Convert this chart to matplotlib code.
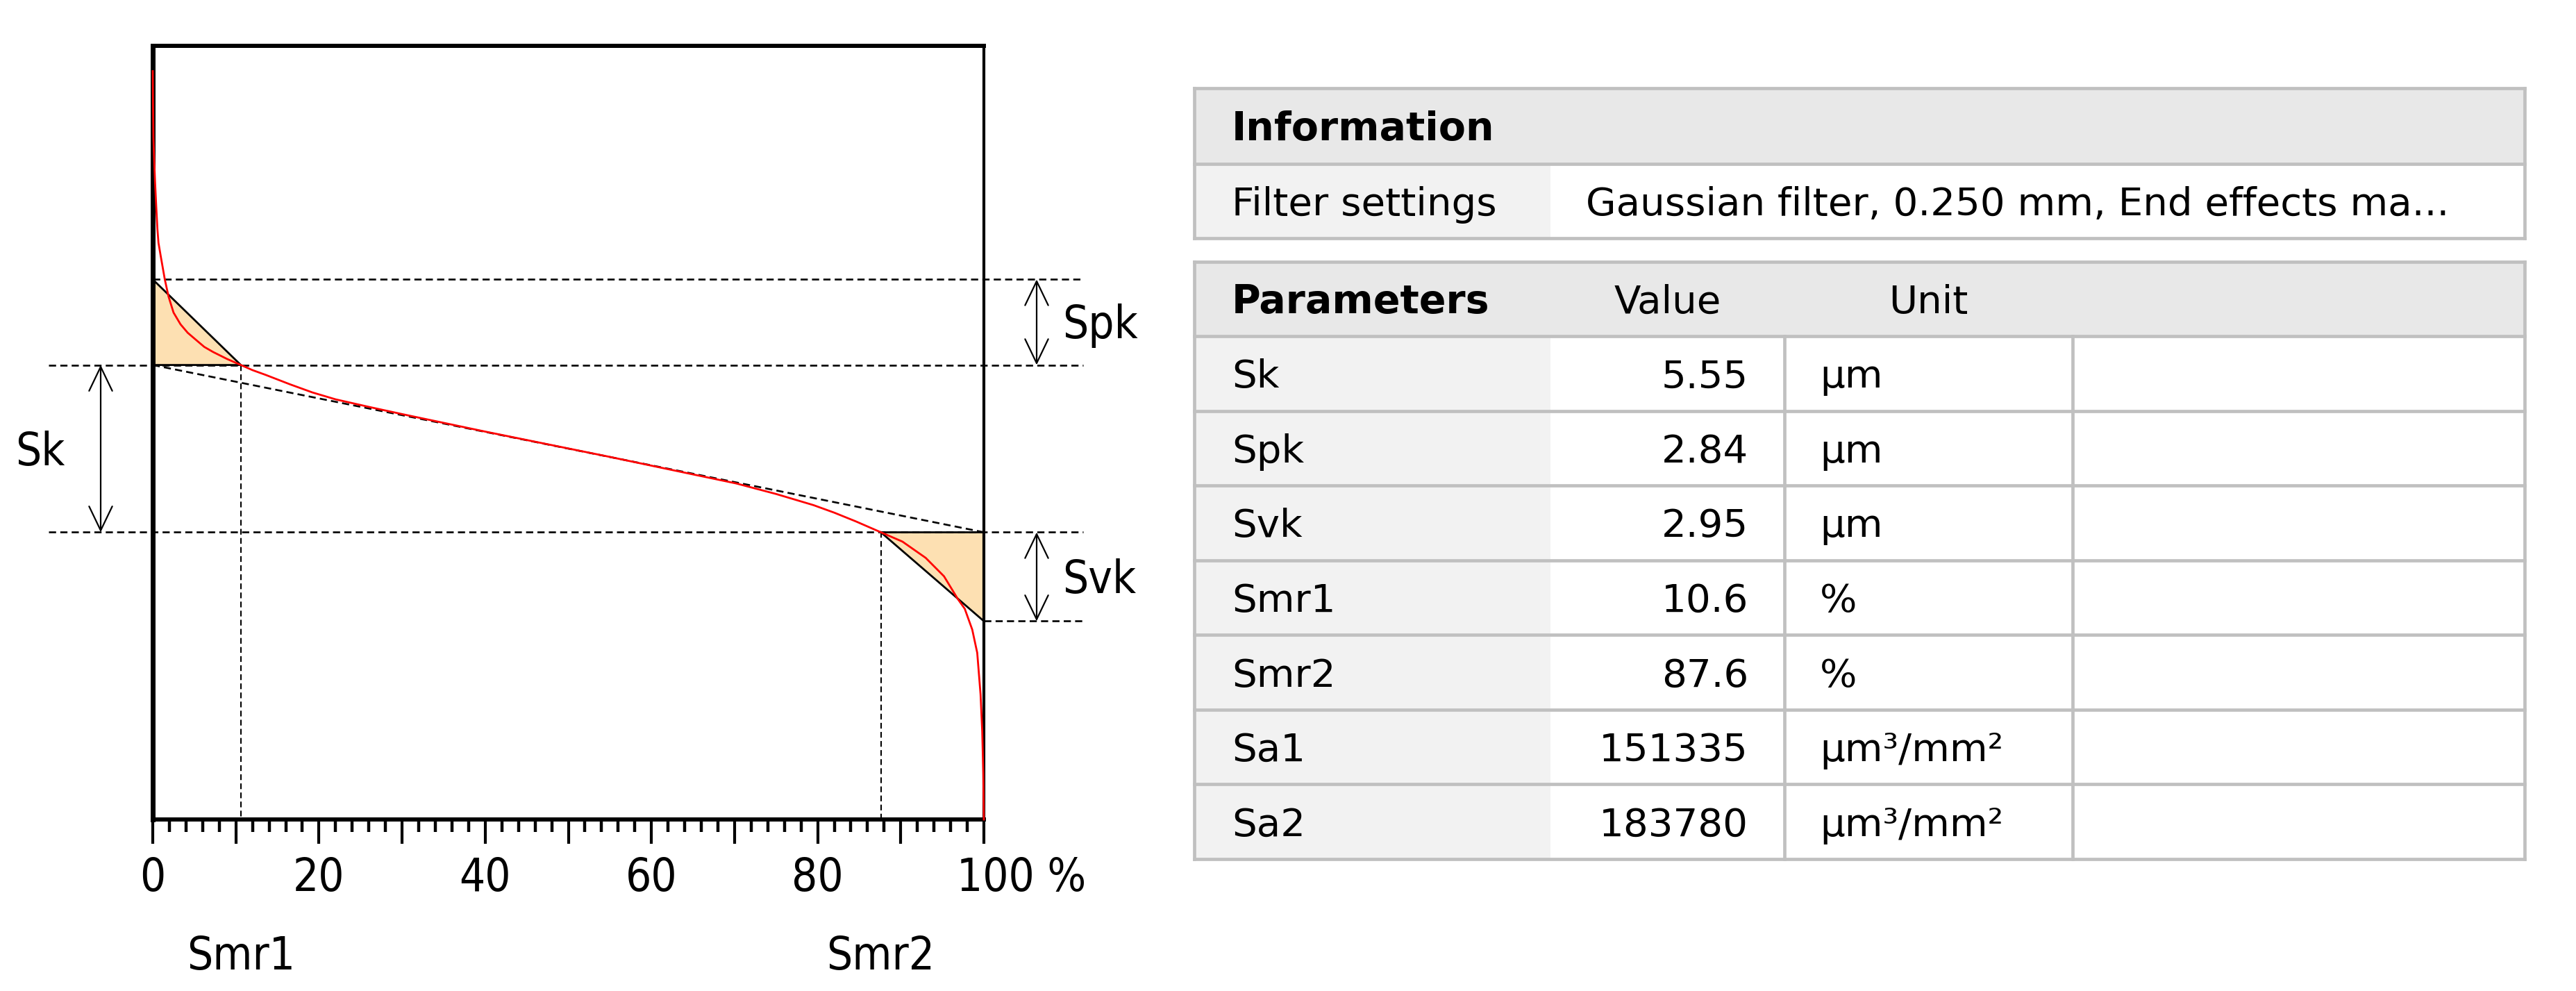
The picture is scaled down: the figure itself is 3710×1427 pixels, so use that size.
import matplotlib
matplotlib.use("Agg")
import matplotlib.pyplot as plt
from matplotlib import font_manager as fm
from matplotlib.font_manager import FontProperties
from matplotlib.patches import Polygon, Rectangle
from matplotlib.transforms import blended_transform_factory
import numpy as np

# ---------------- data ----------------
ratio_pct = [0.0, 0.03, 0.08, 0.18, 0.28, 0.42, 0.56, 0.69, 0.98, 1.45, 1.9, 2.5,
             3.34, 4.2, 5.26, 6.2, 7.27, 8.94, 10.6, 12.0, 13.6, 16.5, 19.2, 22.0,
             26.0, 30.0, 35.0, 40.0, 45.0, 50.0, 55.0, 60.0, 65.0, 70.2, 75.0, 79.5,
             82.0, 84.6, 87.6, 90.2, 93.0, 95.2, 96.9, 97.7, 98.6, 99.2, 99.6, 99.8,
             99.93, 100.0]
height_um = [15.3, 14.3, 13.1, 12.3, 11.6, 10.8, 10.06, 9.6, 9.13, 8.39, 7.82, 7.29,
             6.9, 6.62, 6.37, 6.15, 5.98, 5.75, 5.55, 5.38, 5.22, 4.91, 4.64, 4.41,
             4.16, 3.92, 3.63, 3.34, 3.06, 2.78, 2.50, 2.21, 1.92, 1.62, 1.27, 0.90,
             0.65, 0.36, 0.0, -0.31, -0.85, -1.46, -2.23, -2.54, -3.23, -4.0, -5.38, -6.6,
             -8.0, -9.53]

Sk, Spk, Svk = 5.55, 2.84, 2.95
Smr1, Smr2 = 10.6, 87.6

x_tick_values = [0, 20, 40, 60, 80]
x_tick_labels = ["0", "20", "40", "60", "80"]
last_tick_value = 100
last_tick_label = "100 %"

info_title = "Information"
info_labels = ["Filter settings"]
info_values = ["Gaussian filter, 0.250 mm, End effects ma..."]

param_headers = ["Parameters", "Value", "Unit"]
param_names = ["Sk", "Spk", "Svk", "Smr1", "Smr2", "Sa1", "Sa2"]
param_values = ["5.55", "2.84", "2.95", "10.6", "87.6", "151335", "183780"]
param_units = ["µm", "µm", "µm", "%", "%", "µm³/mm²", "µm³/mm²"]

# ---------------- fonts ----------------
has_cond = any(f.name == "DejaVu Sans" and str(f.stretch) == "condensed"
               for f in fm.fontManager.ttflist)
if has_cond:
    chart_fp = FontProperties(family="DejaVu Sans", stretch="condensed", size=47)
else:
    chart_fp = FontProperties(family="DejaVu Sans", size=43)
tab_fp = FontProperties(family="DejaVu Sans", size=40.5)
tab_bold = FontProperties(family="DejaVu Sans", weight="bold", size=41)

# ---------------- figure ----------------
W, H = 3710, 1427
fig = plt.figure(figsize=(W / 100, H / 100), dpi=100)
fig.patch.set_facecolor("white")

# pixel layout of plot frame
px_l, px_r, px_t, px_b = 220, 1417, 66, 1180
ax = fig.add_axes([px_l / W, (H - px_b) / H, (px_r - px_l) / W, (px_b - px_t) / H])
ax.set_xlim(0, 100)
ax.set_ylim(-9.53, 16.14)

ppx = (px_r - px_l) / 100.0          # pixels per percent
def xpx(p):                           # pixel -> data x
    return (p - px_l) / ppx

for name, lw in [("left", 5.0), ("bottom", 4.3), ("top", 4.3), ("right", 3.0)]:
    ax.spines[name].set_linewidth(lw)
    ax.spines[name].set_color("black")

ax.set_yticks([])
ax.set_xticks(np.arange(0, 101, 10))
ax.set_xticks([v for v in range(0, 101, 2) if v % 10], minor=True)
ax.tick_params(axis="x", which="major", direction="out", length=25, width=3,
               color="black", labelbottom=False)
ax.tick_params(axis="x", which="minor", direction="out", length=13, width=3.2,
               color="black")

dash = (0, (3.9, 2.3))
dlw = 1.9
ytop = Sk + Spk
ylow = -Svk
x_ext_l = xpx(70)
x_ext_r = xpx(1560)

# filled triangles
peak_tri = Polygon([[0, ytop], [0, Sk], [Smr1, Sk]], closed=True,
                   facecolor="#fde0b2", edgecolor="none", zorder=1)
valley_tri = Polygon([[Smr2, 0], [100, 0], [100, ylow]], closed=True,
                     facecolor="#fde0b2", edgecolor="none", zorder=1)
ax.add_patch(peak_tri)
ax.add_patch(valley_tri)

# dashed construction lines
ax.plot([0, x_ext_r], [ytop, ytop], color="black", lw=dlw, ls=dash, clip_on=False, zorder=2)
ax.plot([x_ext_l, x_ext_r], [Sk, Sk], color="black", lw=dlw, ls=dash, clip_on=False, zorder=2)
ax.plot([x_ext_l, x_ext_r], [0, 0], color="black", lw=dlw, ls=dash, clip_on=False, zorder=2)
ax.plot([100, x_ext_r], [ylow, ylow], color="black", lw=dlw, ls=dash, clip_on=False, zorder=2)
ax.plot([0, 100], [Sk, 0], color="black", lw=dlw, ls=dash, zorder=2)
ax.plot([Smr1, Smr1], [Sk, -9.53], color="black", lw=dlw * 0.8, ls=dash, zorder=2)
ax.plot([Smr2, Smr2], [0, -9.53], color="black", lw=dlw * 0.8, ls=dash, zorder=2)

# solid triangle edges
ax.plot([0, Smr1, 0], [ytop, Sk, Sk], color="black", lw=2.0, zorder=3, solid_joinstyle="miter")
ax.plot([Smr2, 100], [0, 0], color="black", lw=2.0, zorder=3)
ax.plot([Smr2, 100], [0, ylow], color="black", lw=2.0, zorder=3)

# material ratio curve
ax.plot(ratio_pct, height_um, color="#ff0000", lw=2.0, zorder=4, clip_on=False)

# double arrows
def darrow(x, y0, y1):
    ax.annotate("", xy=(x, y1), xytext=(x, y0),
                arrowprops=dict(arrowstyle="<->,head_length=25,head_width=12",
                                mutation_scale=1, lw=1.6, color="black",
                                shrinkA=0, shrinkB=0),
                annotation_clip=False)

x_arrow_l = xpx(145)
x_arrow_r = xpx(1493)
darrow(x_arrow_l, 0, Sk)
darrow(x_arrow_r, Sk, ytop)
darrow(x_arrow_r, ylow, 0)

cap = 47 / ((px_b - px_t) / (16.14 + 9.53))   # cap height in data units
ax.text(xpx(22), Sk / 2 - cap / 2, "Sk", fontproperties=chart_fp, ha="left",
        va="baseline", clip_on=False)
ax.text(xpx(1530), (Sk + ytop) / 2 - cap / 2, "Spk", fontproperties=chart_fp, ha="left",
        va="baseline", clip_on=False)
ax.text(xpx(1530), ylow / 2 - cap / 2, "Svk", fontproperties=chart_fp, ha="left",
        va="baseline", clip_on=False)

# tick labels and Smr labels
trans = blended_transform_factory(ax.transData, ax.transAxes)
lab_base = (px_b - 1283) / (px_b - px_t)
smr_base = (px_b - 1396) / (px_b - px_t)
for v, l in zip(x_tick_values, x_tick_labels):
    ax.text(v, lab_base, l, transform=trans, fontproperties=chart_fp,
            ha="center", va="baseline", clip_on=False)
ax.text(last_tick_value - (px_r - 1378) / ppx, lab_base, last_tick_label,
        transform=trans, fontproperties=chart_fp, ha="left", va="baseline", clip_on=False)
ax.text(Smr1, smr_base, "Smr1", transform=trans, fontproperties=chart_fp,
        ha="center", va="baseline", clip_on=False)
ax.text(Smr2, smr_base, "Smr2", transform=trans, fontproperties=chart_fp,
        ha="center", va="baseline", clip_on=False)

# ---------------- tables ----------------
tab = fig.add_axes([0, 0, 1, 1])
tab.set_xlim(0, W)
tab.set_ylim(H, 0)
tab.axis("off")
tab.patch.set_visible(False)

border = "#c0c0c0"
blw = 3.4
hdr_fc = "#e8e8e8"
lab_fc = "#f2f2f2"

c0, c1, c2, c3, c4 = 1720, 2233, 2570, 2985, 3636
pad = 54

def rect(x0, y0, x1, y1, fc):
    tab.add_patch(Rectangle((x0, y0), x1 - x0, y1 - y0, facecolor=fc,
                            edgecolor="none", zorder=1))

def hline(y, x0=c0, x1=c4):
    tab.plot([x0, x1], [y, y], color=border, lw=blw, zorder=2, solid_capstyle="projecting")

def vline(x, y0, y1):
    tab.plot([x, x], [y0, y1], color=border, lw=blw, zorder=2, solid_capstyle="projecting")

def txt(x, yc, s, fp, ha="left"):
    capp = 0.729 * fp.get_size_in_points() * 100 / 72
    tab.text(x, yc + capp / 2, s, fontproperties=fp, ha=ha, va="baseline", zorder=3)

# table 1
t1 = [127, 236, 343]
rect(c0, t1[0], c4, t1[1], hdr_fc)
rect(c0, t1[1], c1, t1[2], lab_fc)
rect(c1, t1[1], c4, t1[2], "white")
for y in t1:
    hline(y)
vline(c0, t1[0], t1[2])
vline(c4, t1[0], t1[2])
txt(c0 + pad, (t1[0] + t1[1]) / 2, info_title, tab_bold)
for i, (lab, val) in enumerate(zip(info_labels, info_values)):
    yc = (t1[1] + t1[2]) / 2
    txt(c0 + pad, yc, lab, tab_fp)
    txt(c1 + 51, yc, val, tab_fp)

# table 2
t2_top, t2_hdr, t2_bot = 377, 484, 1237
rh = (t2_bot - t2_hdr) / len(param_names)
rect(c0, t2_top, c4, t2_hdr, hdr_fc)
rect(c0, t2_hdr, c1, t2_bot, lab_fc)
rect(c1, t2_hdr, c4, t2_bot, "white")
hline(t2_top)
hline(t2_hdr)
for i in range(len(param_names)):
    hline(t2_hdr + rh * (i + 1))
vline(c0, t2_top, t2_bot)
vline(c4, t2_top, t2_bot)
vline(c2, t2_hdr, t2_bot)
vline(c3, t2_hdr, t2_bot)

yc = (t2_top + t2_hdr) / 2
txt(c0 + pad, yc, param_headers[0], tab_bold)
txt((c1 + c2) / 2, yc, param_headers[1], tab_fp, ha="center")
txt((c2 + c3) / 2, yc, param_headers[2], tab_fp, ha="center")
for i, (n, v, u) in enumerate(zip(param_names, param_values, param_units)):
    yc = t2_hdr + rh * (i + 0.5)
    txt(c0 + pad, yc, n, tab_fp)
    txt(c2 - 52, yc, v, tab_fp, ha="right")
    txt(c2 + 51, yc, u, tab_fp)

fig.savefig("out.png", dpi=100, facecolor="white")
